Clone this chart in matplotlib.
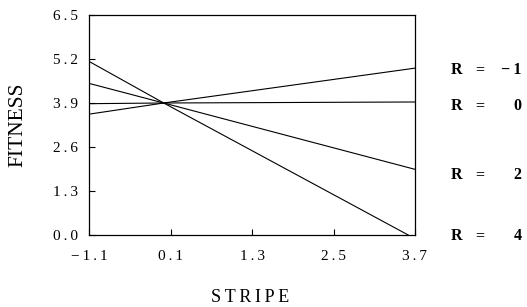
import matplotlib.pyplot as plt

# data
r_values = ["-1", "0", "2", "4"]
line_x = [[-1.1, 0.0, 3.7], [-1.1, 0.0, 3.7], [-1.1, 0.0, 3.7], [-1.1, 0.0, 3.6]]
line_y = [[3.57, 3.9, 4.93], [3.88, 3.9, 3.93], [4.48, 3.9, 1.94], [5.13, 3.9, 0.0]]
label_y = [4.88, 3.81, 1.77, -0.03]
x_ticks = [-1.1, 0.1, 1.3, 2.5, 3.7]
y_ticks = [0.0, 1.3, 2.6, 3.9, 5.2, 6.5]

plt.rcParams['font.family'] = ['Liberation Serif', 'DejaVu Serif']


def spaced(s):
    # the original typesetting has wide letter spacing
    return "\u2009".join(s)


fig = plt.figure(figsize=(5.27, 3.07), dpi=100)
ax = fig.add_axes([89 / 527, 1 - 235 / 307, 326 / 527, 220 / 307])

for xs, ys in zip(line_x, line_y):
    ax.plot(xs, ys, color="black", linewidth=0.8)

ax.set_xlim(-1.1, 3.7)
ax.set_ylim(0, 6.5)
ax.set_xticks(x_ticks)
ax.set_xticklabels([spaced(f"{v:.1f}".replace("-", "\u2212")) for v in x_ticks])
ax.set_yticks(y_ticks)
ax.set_yticklabels([spaced(f"{v:.1f}") for v in y_ticks])
ax.tick_params(direction="in", length=4, width=0.8, labelsize=11)
ax.tick_params(axis="y", pad=8)
ax.tick_params(axis="x", pad=11)
for s in ax.spines.values():
    s.set_linewidth(0.9)

for r, ly in zip(r_values, label_y):
    ax.text(4.22, ly, "R", fontsize=11.5, fontweight="bold", va="center", ha="left")
    ax.text(4.58, ly, "=", fontsize=11.5, fontweight="bold", va="center", ha="left")
    ax.text(5.27, ly, spaced(r.replace("-", "\u2212")), fontsize=11.5, fontweight="bold",
            va="center", ha="right")

fig.text(18 / 527, 1 - 125 / 307, "FITNESS", rotation=90, fontsize=15.5,
         va="center", ha="center")
fig.text(250 / 527, 1 - 298 / 307, spaced("STRIPE"), fontsize=13, va="center", ha="center")

fig.savefig("out.png", dpi=100)
